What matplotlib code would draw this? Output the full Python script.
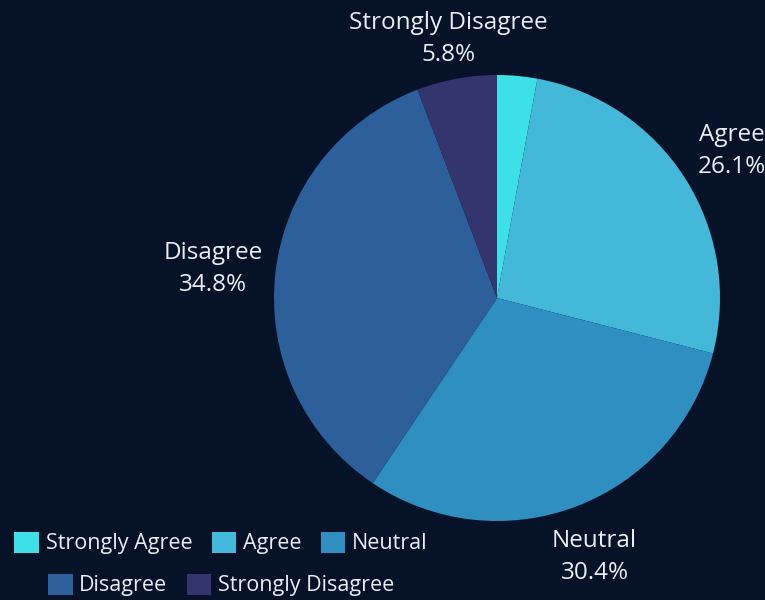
import numpy as np
import matplotlib.pyplot as plt
from matplotlib.patches import Patch

categories = ["Strongly Agree", "Agree", "Neutral", "Disagree", "Strongly Disagree"]
percents = [2.9, 26.1, 30.4, 34.8, 5.8]
show_label = [False, True, True, True, True]
colors = ["#3ee0e7", "#44b8d8", "#2e8fc0", "#2d5f9b", "#34346e"]
bg = "#061228"
txt = "#e9eef3"

plt.rcParams['font.family'] = ['Open Sans', 'DejaVu Sans']

fig = plt.figure(figsize=(7.65, 6), dpi=100, facecolor=bg)
ax = fig.add_axes([0, 0, 1, 1])
ax.set_facecolor(bg)

wedges, _ = ax.pie(percents, colors=colors, startangle=90, counterclock=False,
                   radius=1.0, wedgeprops=dict(linewidth=0))

# pie centre at (497, 298) px, radius 223 px  (pie() resets limits, so set after)
R = 223.0
ax.set_xlim(-497 / R, (765 - 497) / R)
ax.set_ylim(-302 / R, 298 / R)
ax.set_aspect('equal')
ax.axis('off')

labels = []
for w, name, p, show in zip(wedges, categories, percents, show_label):
    if not show:
        continue
    mid = np.deg2rad((w.theta1 + w.theta2) / 2)
    t = ax.text(0, 0, f"{name}\n{p:.1f}%", ha='center', va='center', multialignment='center',
                color=txt, fontsize=17.5, linespacing=1.45, clip_on=False)
    labels.append((t, mid))

# push each label out along its ray until its box clears the pie
fig.canvas.draw()
rend = fig.canvas.get_renderer()
for t, mid in labels:
    bb = t.get_window_extent(rend)
    hw, hh = bb.width / 2 / R, bb.height / 2 / R
    cx, cy = np.cos(mid), np.sin(mid)
    d = 1.0
    while True:
        x0, y0 = d * cx, d * cy
        px = min(max(0, x0 - hw), x0 + hw)
        py = min(max(0, y0 - hh), y0 + hh)
        if np.hypot(px, py) >= 1.05:
            break
        d += 0.002
    t.set_position((d * cx, d * cy - 3 / R))

h = [Patch(facecolor=c, edgecolor='none') for c in colors]
leg_kw = dict(frameon=False, fontsize=15.5, labelcolor=txt, handlelength=1.15, handleheight=1.15,
              handletextpad=0.3, columnspacing=0.9, borderaxespad=0, loc='center')
leg1 = fig.legend(h[:3], categories[:3], ncol=3, bbox_to_anchor=(221 / 765, 1 - 543 / 600), **leg_kw)
leg2 = fig.legend(h[3:], categories[3:], ncol=2, bbox_to_anchor=(221 / 765, 1 - 585 / 600), **leg_kw)

fig.savefig("out.png", dpi=100, facecolor=bg)
